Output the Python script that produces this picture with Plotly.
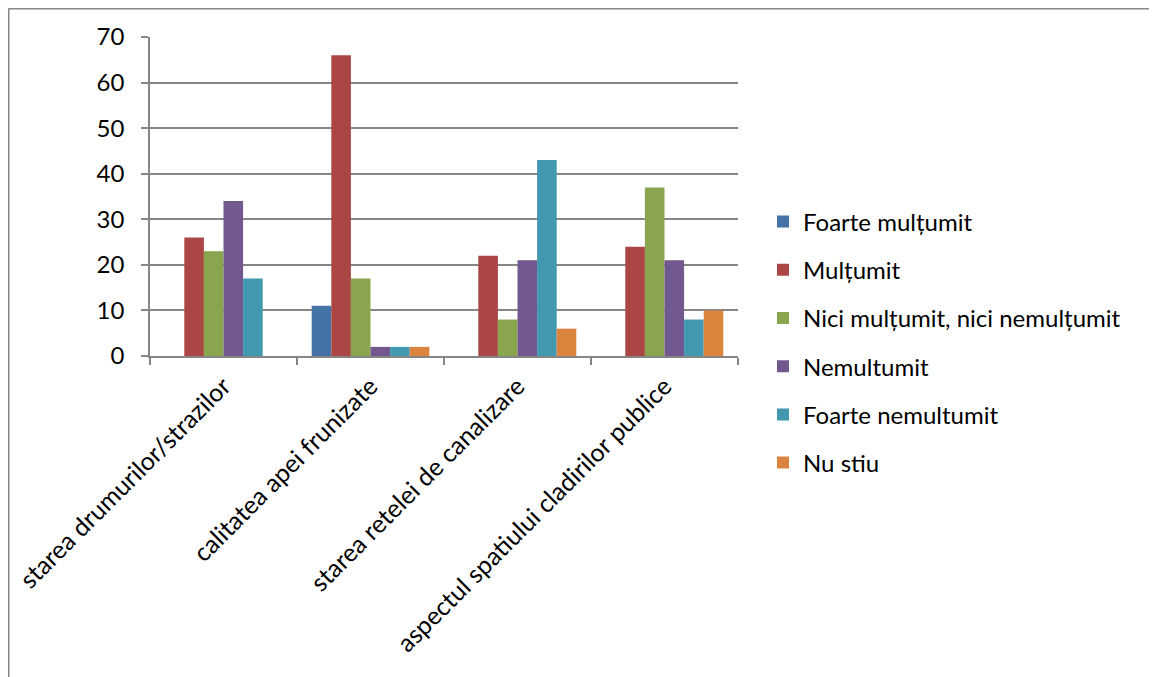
import plotly.graph_objects as go

categories = [
    "starea drumurilor/strazilor",
    "calitatea apei frunizate",
    "starea retelei de canalizare",
    "aspectul spatiului cladirilor publice",
]
series_names = [
    "Foarte mulțumit",
    "Mulțumit",
    "Nici mulțumit, nici nemulțumit",
    "Nemultumit",
    "Foarte nemultumit",
    "Nu stiu",
]
foarte_multumit = [0, 11, 0, 0]
multumit = [26, 66, 22, 24]
nici = [23, 17, 8, 37]
nemultumit = [34, 2, 21, 21]
foarte_nemultumit = [17, 2, 43, 8]
nu_stiu = [0, 2, 6, 10]
y_ticks = [0, 10, 20, 30, 40, 50, 60, 70]

series_values = [foarte_multumit, multumit, nici, nemultumit, foarte_nemultumit, nu_stiu]
colors = ["#4572A7", "#AA4643", "#89A54E", "#71588F", "#4198AF", "#DB843D"]

FONT = "Lato"
OFF = 8  # page body margin offset
W, H = 1157 - OFF, 677 - OFF
L, R, T, B = 150 - OFF, 738 - OFF, 37 - OFF, 356 - OFF

fig = go.Figure()
for i, (name, vals) in enumerate(zip(series_names, series_values)):
    fig.add_trace(go.Bar(
        x=categories, y=vals, name=name,
        marker=dict(color=colors[i], line=dict(width=0)),
        legendgroup=f"g{i}",
    ))

grid = "#868686"
fig.update_layout(
    width=W, height=H,
    margin=dict(l=L, r=W - R, t=T, b=H - B, autoexpand=False),
    paper_bgcolor="white", plot_bgcolor="white",
    barmode="group", bargap=0.2, bargroupgap=0,
    font=dict(family=FONT, size=24, color="black"),
    showlegend=True,
    legend=dict(
        x=(755 - L) / (R - L), xanchor="left",
        y=(B - (342.5 - OFF)) / (B - T), yanchor="middle",
        font=dict(family=FONT, size=24, color="black"),
        tracegroupgap=14, traceorder="grouped",
        itemwidth=30,
        bgcolor="rgba(0,0,0,0)",
    ),
    xaxis=dict(
        type="category", tickangle=-45, automargin=False,
        showline=True, linecolor=grid, linewidth=1.5,
        ticks="outside", tickson="boundaries", ticklen=7, tickcolor=grid, tickwidth=1.5,
        showgrid=False,
        tickfont=dict(family=FONT, size=25, color="black"),
        ticklabelstandoff=4,
    ),
    yaxis=dict(
        range=[0, 70], tickvals=y_ticks, automargin=False,
        showline=True, linecolor=grid, linewidth=1.5,
        ticks="outside", ticklen=7, tickcolor=grid, tickwidth=1.5,
        showgrid=True, gridcolor=grid, gridwidth=1.5,
        zeroline=False,
        tickfont=dict(family=FONT, size=24, color="black"),
        ticklabelstandoff=12,
    ),
)

# outer chart border (top and left edges visible)
def px2x(p):
    return (p - L) / (R - L)

def py2y(p):
    return (B - p) / (B - T)

fig.add_shape(type="line", xref="paper", yref="paper",
              x0=px2x(0.5), x1=px2x(W), y0=py2y(0.5), y1=py2y(0.5),
              line=dict(color=grid, width=2))
fig.add_shape(type="line", xref="paper", yref="paper",
              x0=px2x(0.5), x1=px2x(0.5), y0=py2y(0.5), y1=py2y(H),
              line=dict(color=grid, width=2))

fig.write_html("out.html")
